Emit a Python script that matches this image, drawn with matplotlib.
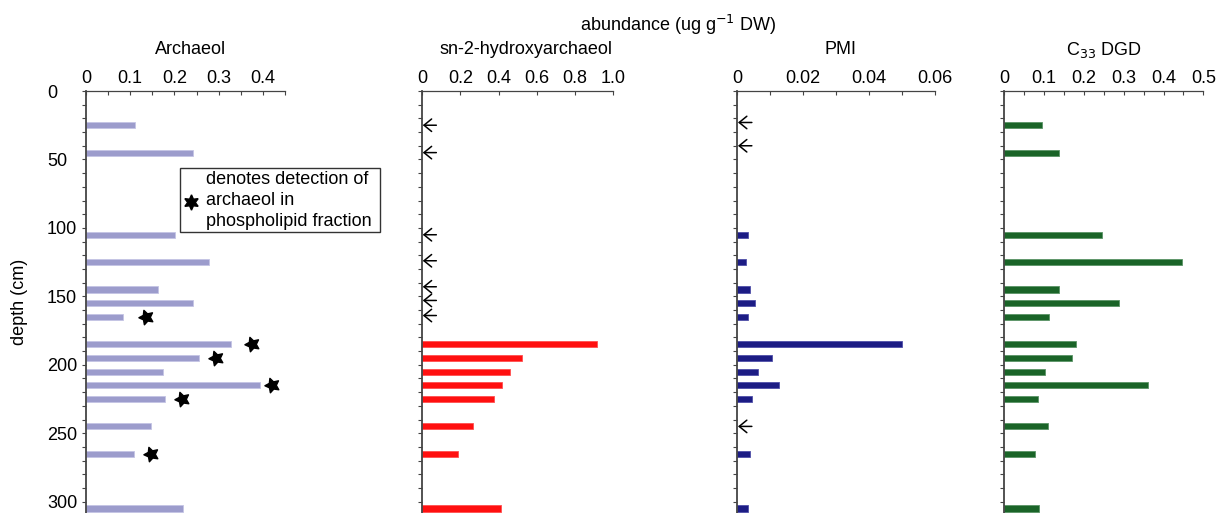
import numpy as np
import matplotlib
matplotlib.use("Agg")
import matplotlib.pyplot as plt
from matplotlib.patches import Rectangle
from matplotlib.lines import Line2D

plt.rcParams['font.family'] = ['Liberation Sans', 'DejaVu Sans']

# --------------------------
# Data
# --------------------------
arch_depth = [25, 45, 105, 125, 145, 155, 165, 185, 195, 205, 215, 225, 245, 265, 305]
arch_val = [0.111, 0.242, 0.201, 0.278, 0.162, 0.241, 0.083, 0.327, 0.255, 0.174,
            0.393, 0.178, 0.147, 0.108, 0.220]
star_depth = [165, 185, 195, 215, 225, 265]
star_x = [0.135, 0.376, 0.293, 0.420, 0.217, 0.148]

hyd_depth = [185, 195, 205, 215, 225, 245, 265, 305]
hyd_val = [0.913, 0.521, 0.46, 0.418, 0.378, 0.265, 0.188, 0.415]
hyd_arrows = [25, 45, 105, 124, 143, 153, 164]

pmi_depth = [105, 125, 145, 155, 165, 185, 195, 205, 215, 225, 265, 305]
pmi_val = [0.0032, 0.0026, 0.0040, 0.0055, 0.0032, 0.050, 0.0106, 0.0065,
           0.0127, 0.0045, 0.0038, 0.0032]
pmi_arrows = [23, 40, 245]

dgd_depth = [25, 45, 105, 125, 145, 155, 165, 185, 195, 205, 215, 225, 245, 265, 305]
dgd_val = [0.094, 0.138, 0.245, 0.447, 0.137, 0.288, 0.112, 0.181, 0.170, 0.102,
           0.362, 0.085, 0.111, 0.078, 0.088]

W, H = 1219, 513
fig = plt.figure(figsize=(W / 100, H / 100), dpi=100)
fig.patch.set_facecolor("white")

TOP = 91
YMAX = (H - TOP) / 1.369
FS = 13


def make_ax(left, width, xmax, major, minor, ticklabels):
    ax = fig.add_axes([left / W, 0, width / W, (H - TOP) / H])
    ax.set_xlim(0, xmax)
    ax.set_ylim(YMAX, 0)
    for s in ['right', 'bottom']:
        ax.spines[s].set_visible(False)
    ax.spines['left'].set_color('#444444')
    ax.spines['top'].set_color('#444444')
    ax.spines['left'].set_linewidth(1.3)
    ax.spines['top'].set_linewidth(0.9)
    ax.xaxis.tick_top()
    ax.set_xticks(major)
    ax.set_xticklabels(ticklabels)
    if minor is not None:
        ax.set_xticks(minor, minor=True)
    ax.set_yticks([0, 50, 100, 150, 200, 250, 300])
    ax.set_yticks(np.arange(0, 310, 10), minor=True)
    ax.tick_params(axis='x', which='both', direction='in', length=3, width=0.8,
                   colors='#444444', labelcolor='black', labelsize=FS, pad=3)
    ax.tick_params(axis='y', which='both', direction='out', length=3, width=0.8,
                   colors='#444444', labelcolor='black', labelsize=FS, pad=25)
    ax.patch.set_alpha(0)
    return ax


BH = 4.5
ARROW = '->,head_length=0.55,head_width=0.45'

# Archaeol
ax1 = make_ax(86, 199, 0.45, [0, 0.1, 0.2, 0.3, 0.4], np.arange(0, 0.46, 0.05),
              ["0", "0.1", "0.2", "0.3", "0.4"])
ax1.barh(arch_depth, arch_val, height=BH, color='#9c9ccc', edgecolor='#c4c4e4', linewidth=0.6)
ax1.scatter(star_x, star_depth, marker=(5, 1, 20), s=120, color='black', zorder=5)
for lab in ax1.get_yticklabels():
    lab.set_horizontalalignment('left')
ax1.set_ylabel("depth (cm)", fontsize=FS)
ax1.yaxis.set_label_coords((28 - 86) / 199, 0.5)

# sn-2-hydroxyarchaeol
ax2 = make_ax(422, 191.3, 1.0, [0, 0.2, 0.4, 0.6, 0.8, 1.0], None,
              ["0", "0.2", "0.4", "0.6", "0.8", "1.0"])
ax2.barh(hyd_depth, hyd_val, height=BH, color='#ff1010', edgecolor='#ff5050', linewidth=0.6)
for d in hyd_arrows:
    ax2.annotate('', xy=(0.004, d), xytext=(0.075, d),
                 arrowprops=dict(arrowstyle=ARROW, color='black', lw=1.1, mutation_scale=10,
                                 shrinkA=0, shrinkB=0))
ax2.set_yticklabels([])

# PMI
ax3 = make_ax(737, 198, 0.06, [0, 0.02, 0.04, 0.06], np.arange(0, 0.061, 0.01),
              ["0", "0.02", "0.04", "0.06"])
ax3.barh(pmi_depth, pmi_val, height=BH, color='#1c1c84', edgecolor='#5050a8', linewidth=0.6)
for d in pmi_arrows:
    ax3.annotate('', xy=(0.0003, d), xytext=(0.0045, d),
                 arrowprops=dict(arrowstyle=ARROW, color='black', lw=1.1, mutation_scale=10,
                                 shrinkA=0, shrinkB=0))
ax3.set_yticklabels([])

# C33 DGD
ax4 = make_ax(1004.3, 199, 0.5, [0, 0.1, 0.2, 0.3, 0.4, 0.5], np.arange(0, 0.51, 0.05),
              ["0", "0.1", "0.2", "0.3", "0.4", "0.5"])
ax4.barh(dgd_depth, dgd_val, height=BH, color='#1a6428', edgecolor='#5a9466', linewidth=0.6)
ax4.set_yticklabels([])


# Titles
def ftext(x, y, s, **kw):
    fig.text(x / W, 1 - y / H, s, ha='center', va='center', **kw)


ftext(678, 25, "abundance (ug g$^{-1}$ DW)", fontsize=FS)
ftext(191, 50, "Archaeol", fontsize=FS)
ftext(526, 50, "sn-2-hydroxyarchaeol", fontsize=FS)
ftext(841, 50, "PMI", fontsize=FS)
ftext(1104, 50, "C$_{33}$ DGD", fontsize=FS)

# Star legend box
fig.patches.append(Rectangle((180 / W, 1 - 232 / H), 200 / W, 64 / H, transform=fig.transFigure,
                             facecolor='white', edgecolor='#333333', linewidth=1.0, zorder=6))
fig.text(206 / W, 1 - 200.5 / H, "denotes detection of\narchaeol in\nphospholipid fraction",
         ha='left', va='center', fontsize=FS, linespacing=1.28, zorder=7)
fig.add_artist(Line2D([191 / W], [1 - 201.5 / H], transform=fig.transFigure, marker=(6, 1, 0),
                      markersize=11, color='black', linestyle='', zorder=8))

fig.savefig("out.png", dpi=100)
